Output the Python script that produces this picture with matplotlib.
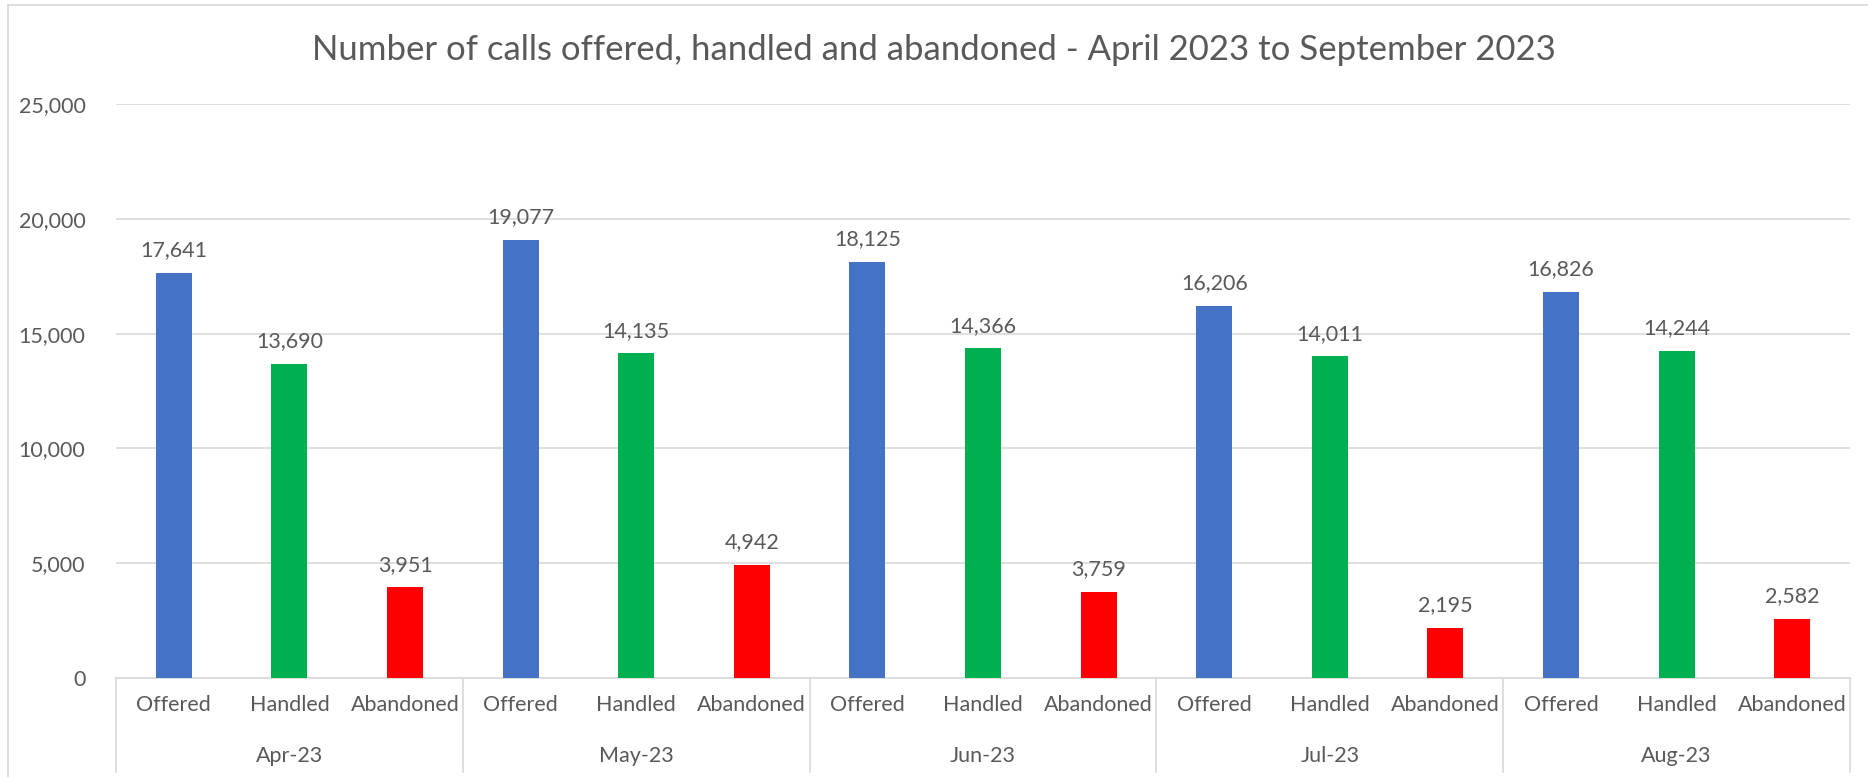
import matplotlib.pyplot as plt
import numpy as np

months = ['Apr-23', 'May-23', 'Jun-23', 'Jul-23', 'Aug-23']
kinds = ['Offered', 'Handled', 'Abandoned']
offered = [17641, 19077, 18125, 16206, 16826]
handled = [13690, 14135, 14366, 14011, 14244]
abandoned = [3951, 4942, 3759, 2195, 2582]
yticks = [0, 5000, 10000, 15000, 20000, 25000]

colors = ['#4472C4', '#00B050', '#FF0000']
text_color = '#595959'
plt.rcParams['font.family'] = ['Lato', 'DejaVu Sans']

fig = plt.figure(figsize=(18.68, 7.77), dpi=100)
ax = fig.add_axes([116 / 1868, 1 - 678 / 777, (1850 - 116) / 1868, (678 - 104) / 777])

# chart border (left and top visible)
fig.add_artist(plt.Line2D([8 / 1868, 8 / 1868], [0, 1 - 5 / 777], color='#D9D9D9', lw=1.2))
fig.add_artist(plt.Line2D([8 / 1868, 1], [1 - 5 / 777, 1 - 5 / 777], color='#D9D9D9', lw=1.2))

series = [offered, handled, abandoned]
positions = []
labels = []
for m in range(len(months)):
    for k in range(len(kinds)):
        x = m * 3 + k
        v = series[k][m]
        ax.bar(x, v, width=0.31, color=colors[k], zorder=3)
        ax.annotate(f'{v:,}', (x, v), xytext=(0, 9), textcoords='offset points',
                    ha='center', va='bottom', fontsize=15.5, color=text_color)
        positions.append(x)
        labels.append(kinds[k])

ax.set_xlim(-0.5, len(positions) - 0.5)
ax.set_ylim(0, 25000)
ax.set_yticks(yticks)
ax.set_yticklabels([f'{t:,}' for t in yticks], fontsize=15.5, color=text_color)
ax.tick_params(axis='y', length=0, pad=22)
ax.grid(axis='y', color='#D9D9D9', lw=1.2, zorder=0)

ax.set_xticks(positions)
ax.set_xticklabels(labels, fontsize=15.5, color=text_color)
ax.tick_params(axis='x', length=0, pad=12)

for s in ['top', 'right', 'left']:
    ax.spines[s].set_visible(False)
ax.spines['bottom'].set_color('#D9D9D9')
ax.spines['bottom'].set_linewidth(1.2)

# group separators and month labels
for b in range(len(months) + 1):
    ax.plot([b * 3 - 0.5, b * 3 - 0.5], [0, -0.164], transform=ax.get_xaxis_transform(),
            color='#D9D9D9', lw=1.2, clip_on=False)
for m, name in enumerate(months):
    ax.text(m * 3 + 1, -0.136, name, transform=ax.get_xaxis_transform(),
            ha='center', va='center', fontsize=15.5, color=text_color)

fig.text(0.5, 1 - 50 / 777, 'Number of calls offered, handled and abandoned - April 2023 to September 2023',
         ha='center', va='center', fontsize=25, color=text_color)

fig.savefig('out.png', dpi=100, facecolor='white')
